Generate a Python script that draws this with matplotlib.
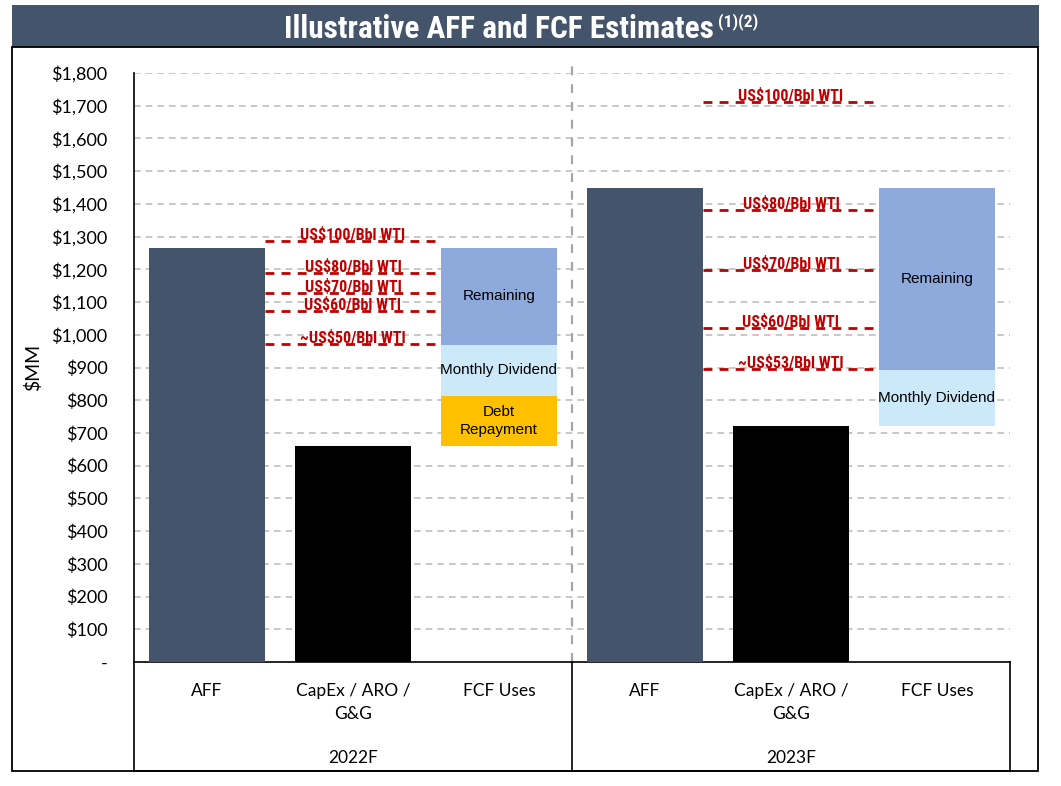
import matplotlib

matplotlib.use("Agg")
import matplotlib.pyplot as plt
from matplotlib import font_manager
from matplotlib.font_manager import FontProperties
from matplotlib.patches import Rectangle
from matplotlib.transforms import blended_transform_factory
import numpy as np


YEARS = ["2022F", "2023F"]
CATEGORIES = ["AFF", "CapEx / ARO /\nG&G", "FCF Uses"]

AFF = [1265, 1450]
CAPEX = [660, 722]
DEBT = [153, 0]
DIVIDEND = [156, 170]
REMAINING = [296, 558]

PRICE_LABELS = [
    ["US$100/Bbl WTI", "US$80/Bbl WTI", "US$70/Bbl WTI", "US$60/Bbl WTI", "~US$50/Bbl WTI"],
    ["US$100/Bbl WTI", "US$80/Bbl WTI", "US$70/Bbl WTI", "US$60/Bbl WTI", "~US$53/Bbl WTI"],
]
PRICE_VALUES = [
    [1287, 1190, 1128, 1074, 972],
    [1710, 1381, 1198, 1021, 895],
]

Y_TICKS = list(range(0, 1801, 100))
Y_TICK_LABELS = ["-"] + ["${:,}".format(v) for v in Y_TICKS[1:]]

HEADER = "#44546A"
RED = "#C00000"
CALIBRI_LIKE = "Lato"


def narrow_props(size, weight="bold"):
    """Pick a condensed sans face if one is installed, else None."""
    fonts = font_manager.fontManager.ttflist
    names = {f.name for f in fonts}
    for name in ("Liberation Sans Narrow", "Arial Narrow", "Roboto Condensed",
                 "Open Sans Condensed", "Noto Sans Condensed", "DejaVu Sans Condensed"):
        if name in names:
            return FontProperties(family=name, size=size, weight=weight), True
    for fam in ("Noto Sans", "DejaVu Sans", "Open Sans", "Roboto"):
        for f in fonts:
            if f.name == fam and str(f.stretch) in ("condensed", "semi-condensed", "75", "87"):
                return FontProperties(family=fam, size=size, weight=weight,
                                      stretch="condensed"), True
    return None, False


def main():
    fig = plt.figure(figsize=(10.61, 7.86), dpi=100)
    ax = fig.add_axes([134 / 1061, 124 / 786, 876 / 1061, 589 / 786])

    title_fp, has_narrow = narrow_props(22.5)
    if not has_narrow:
        title_fp = FontProperties(family="Liberation Sans", size=19.5, weight="bold")
    sup_fp = title_fp.copy()
    sup_fp.set_size(12.5)
    lab_fp, _ = narrow_props(11.5)
    if not has_narrow:
        lab_fp = FontProperties(family="Liberation Sans", size=10, weight="bold")

    # header band and outer frame
    fig.patches.append(Rectangle((12 / 1061, 739 / 786), 1027 / 1061, 42 / 786,
                                 transform=fig.transFigure, facecolor=HEADER,
                                 edgecolor="none", zorder=0))
    fig.patches.append(Rectangle((12 / 1061, 15 / 786), 1026 / 1061, 724 / 786,
                                 transform=fig.transFigure, facecolor="none",
                                 edgecolor="black", linewidth=1.3, zorder=0))

    title = fig.text(0.47, 1 - 29 / 786, "Illustrative AFF and FCF Estimates",
                     color="white", fontproperties=title_fp, ha="center", va="center")
    fig.canvas.draw()
    bb = title.get_window_extent().transformed(fig.transFigure.inverted())
    fig.text(bb.x1 + 0.004, bb.y1 + 0.001, "(1)(2)", color="white", fontproperties=sup_fp,
             ha="left", va="top")

    aff_x = [0, 3]
    capex_x = [1, 4]
    fcf_x = [2, 5]
    width = 0.8

    ax.bar(aff_x, AFF, width, color=HEADER, zorder=3)
    ax.bar(capex_x, CAPEX, width, color="black", zorder=3)
    bottom = np.array(CAPEX, dtype=float)
    segs = [(DEBT, "#FFC000", "Debt\nRepayment"),
            (DIVIDEND, "#CCE9FA", "Monthly Dividend"),
            (REMAINING, "#8EA9DB", "Remaining")]
    for vals, color, label in segs:
        vals = np.array(vals, dtype=float)
        ax.bar(fcf_x, vals, width, bottom=bottom, color=color, zorder=3)
        for xi, b, v in zip(fcf_x, bottom, vals):
            if v > 0:
                ax.text(xi, b + v / 2, label, ha="center", va="center", fontsize=11,
                        family="Liberation Sans", linespacing=1.45, zorder=5)
        bottom = bottom + vals

    # price deck lines
    for gi, (labels, values) in enumerate(zip(PRICE_LABELS, PRICE_VALUES)):
        x0 = aff_x[gi] + width / 2
        x1 = fcf_x[gi] - width / 2
        for lab, val in zip(labels, values):
            ax.plot([x0, x1], [val, val], color=RED, linewidth=2, dashes=(3.2, 2.6), zorder=4)
            ax.text(capex_x[gi], val + 3, lab, color=RED, fontproperties=lab_fp,
                    ha="center", va="baseline", zorder=5)

    ax.set_xlim(-0.5, 5.5)
    ax.set_ylim(0, 1800)
    ax.set_yticks(Y_TICKS)
    ax.set_yticklabels(Y_TICK_LABELS, fontsize=13, family=CALIBRI_LIKE)
    ax.set_xticks([])
    ax.tick_params(axis="y", length=0, pad=19)
    ax.set_ylabel("$MM", fontsize=14, family=CALIBRI_LIKE, labelpad=7)

    for yv in Y_TICKS[1:]:
        ax.axhline(yv, color="#BFBFBF", linewidth=1.2, dashes=(4, 3), zorder=1)

    for side in ("top", "right"):
        ax.spines[side].set_visible(False)
    ax.spines["left"].set_linewidth(1.2)
    ax.spines["bottom"].set_linewidth(1.2)

    # separator between years
    ax.plot([0.5, 0.5], [0, 1.025], transform=ax.transAxes, color="#A6A6A6",
            linewidth=1.6, dashes=(4, 4), clip_on=False, zorder=2)

    # category box below axes
    box_bottom = -0.185
    for xa in (0, 0.5, 1):
        ax.plot([xa, xa], [0, box_bottom], transform=ax.transAxes, color="black",
                linewidth=1.2, clip_on=False)
    ax.plot([0, 1], [box_bottom, box_bottom], transform=ax.transAxes, color="black",
            linewidth=1.2, clip_on=False)

    trans = blended_transform_factory(ax.transData, ax.transAxes)
    for gi in range(2):
        for ci, cat in enumerate(CATEGORIES):
            ax.text(gi * 3 + ci, -0.036, cat, transform=trans, ha="center", va="top",
                    fontsize=12.5, family=CALIBRI_LIKE, linespacing=1.55)
        ax.text(gi * 3 + 1, -0.163, YEARS[gi], transform=trans, ha="center", va="center",
                fontsize=12.5, family=CALIBRI_LIKE)

    fig.savefig("out.png", dpi=100, facecolor="white")
    plt.close(fig)


if __name__ == "__main__":
    main()
